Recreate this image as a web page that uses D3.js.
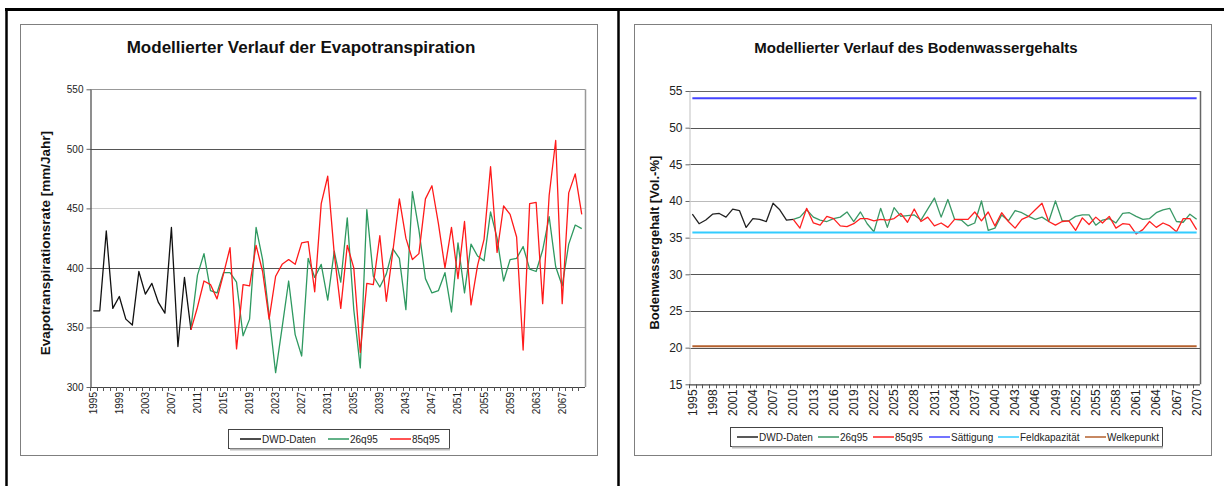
<!DOCTYPE html>
<html>
<head>
<meta charset="utf-8">
<title>Evapotranspiration und Bodenwassergehalt</title>
<script src="https://cdn.jsdelivr.net/npm/d3@7"></script>
<style>
  body { margin: 0; background: #fff; }
  svg { font-family: "Liberation Sans", Arial, sans-serif; }
</style>
</head>
<body>
<svg id="chart" width="1224" height="486"></svg>
<script>
// years on both x axes
var years = d3.range(1995, 2071);

// Evapotranspiration [mm/Jahr]
var etDwd = [364, 364, 431, 366, 376, 357, 352, 397, 378, 387, 371, 362, 434, 334, 392, 348]; // 1995-2010
var et26 = [350, 394, 412, 381, 379, 396, 396, 388, 343, 357, 434, 407, 360, 312, 350, 389, 344, 326, 408, 392,
            403, 373, 414, 388, 442, 365, 316, 449, 393, 384, 395, 416, 408, 365, 464, 432, 391, 379, 381, 396,
            363, 421, 379, 420, 410, 406, 447, 425, 389, 407, 408, 418, 399, 397, 415, 443, 401, 385, 420, 436, 433]; // 2010-2070
var et85 = [348, 367, 389, 386, 374, 395, 417, 332, 386, 385, 419, 397, 357, 393, 403, 407, 403, 421, 422, 380,
            454, 477, 412, 366, 419, 400, 329, 387, 386, 427, 372, 414, 458, 425, 407, 412, 458, 469, 437, 400,
            434, 391, 439, 369, 402, 424, 485, 413, 452, 445, 426, 331, 454, 455, 370, 461, 507, 370, 463, 479, 445];
var etTicks = [300, 350, 400, 450, 500, 550];

// Bodenwassergehalt [Vol.-%]
var bwDwd = [38.2, 36.9, 37.4, 38.2, 38.3, 37.8, 38.9, 38.7, 36.4, 37.6, 37.5, 37.2, 39.7, 38.8, 37.4, 37.5];
var bw26 = [37.5, 37.8, 38.8, 37.8, 37.4, 37.2, 37.6, 37.8, 38.5, 37.2, 38.5, 36.9, 35.8, 39.0, 36.4, 39.1, 37.9, 38.0, 38.1, 37.4,
            38.9, 40.4, 37.8, 40.2, 37.5, 37.4, 36.6, 37.0, 40.0, 36.0, 36.3, 38.1, 37.3, 38.7, 38.4, 37.9, 37.5, 37.8, 37.2, 40.0,
            37.3, 37.3, 37.9, 38.1, 38.1, 36.7, 37.4, 37.6, 37.0, 38.3, 38.4, 37.9, 37.5, 37.6, 38.4, 38.8, 39.0, 37.2, 37.1, 38.2, 37.5];
var bw85 = [37.5, 36.3, 39.0, 37.0, 36.7, 37.9, 37.6, 36.6, 36.5, 36.9, 37.6, 37.6, 37.3, 37.5, 37.4, 37.6, 38.3, 37.1, 38.9, 37.2,
            37.8, 36.6, 37.0, 36.4, 37.5, 37.5, 37.5, 38.5, 37.3, 38.5, 36.6, 38.4, 37.2, 36.3, 37.5, 37.9, 38.8, 39.7, 37.2, 36.7,
            37.2, 37.3, 36.0, 37.7, 36.8, 37.8, 37.0, 37.9, 36.3, 36.9, 36.8, 35.5, 36.1, 37.2, 36.4, 37.0, 36.6, 35.8, 37.6, 37.6, 36.1];
var saettigung = 54, feldkapazitaet = 35.7, welkepunkt = 20.2;
var bwTicks = [15, 20, 25, 30, 35, 40, 45, 50, 55];

var dwdYears = years.slice(0, etDwd.length);
var modelYears = years.slice(etDwd.length - 1);

function pairs(ys, vs) {
    return ys.map(function (yr, i) { return { year: yr, v: vs[i] }; });
}

var svg = d3.select('#chart');

// page frame (scanned document look)
svg.append('line').attr('x1', 5).attr('x2', 1224).attr('y1', 9.5).attr('y2', 9.5).attr('stroke', '#000').attr('stroke-width', 3);
svg.append('line').attr('x1', 6.5).attr('x2', 6.5).attr('y1', 8).attr('y2', 486).attr('stroke', '#000').attr('stroke-width', 2.5);
svg.append('line').attr('x1', 618.5).attr('x2', 618.5).attr('y1', 8).attr('y2', 486).attr('stroke', '#000').attr('stroke-width', 2.5);

function panel(cfg) {
    var g = svg.append('g');

    g.append('rect').attr('x', cfg.box[0] + 0.5).attr('y', 24.5).attr('width', 577).attr('height', 431)
        .attr('fill', '#fff').attr('stroke', '#7f7f7f');

    g.append('text').attr('x', cfg.titleX).attr('y', 53).attr('text-anchor', 'middle')
        .attr('font-size', cfg.titleSize).attr('font-weight', 'bold').attr('fill', '#111').text(cfg.title);

    var x = d3.scaleBand().domain(years).range([cfg.left, cfg.right]);
    var y = d3.scaleLinear().domain([cfg.ticks[0], cfg.ticks[cfg.ticks.length - 1]]).range([cfg.bottom, cfg.top]);
    var cx = function (yr) { return x(yr) + x.bandwidth() / 2; };

    // horizontal gridlines
    g.selectAll('.grid').data(cfg.ticks.slice(1)).enter().append('line')
        .attr('x1', cfg.left).attr('x2', cfg.right)
        .attr('y1', function (d) { return Math.round(y(d)) + 0.5; })
        .attr('y2', function (d) { return Math.round(y(d)) + 0.5; })
        .attr('stroke', function (d) { return cfg.gridColor[d] || '#555'; })
        .attr('stroke-width', 1.2);
    g.append('line').attr('x1', cfg.right + 0.5).attr('x2', cfg.right + 0.5).attr('y1', cfg.top).attr('y2', cfg.bottom)
        .attr('stroke', cfg.rightBorder).attr('stroke-width', 1.5);

    // y axis
    var ya = g.append('g').attr('transform', 'translate(' + (cfg.left + 0.5) + ',0)')
        .call(d3.axisLeft(y).tickValues(cfg.ticks).tickSize(4).tickSizeOuter(0).tickPadding(3));
    ya.select('.domain').attr('stroke', cfg.yAxisColor).attr('stroke-width', 1.2);
    ya.selectAll('.tick line').attr('stroke', '#666');
    ya.selectAll('text').attr('font-size', cfg.tickSize).attr('fill', '#222').attr('font-family', null);

    g.append('text')
        .attr('transform', 'translate(' + cfg.yTitleX + ',' + ((cfg.top + cfg.bottom) / 2 + 5) + ') rotate(-90)')
        .attr('text-anchor', 'middle').attr('font-size', cfg.yTitleSize).attr('font-weight', 'bold').attr('fill', '#111')
        .text(cfg.yTitle);

    // x axis: line, one tick per year boundary, rotated labels
    g.append('line').attr('x1', cfg.left).attr('x2', cfg.right).attr('y1', cfg.bottom + 0.5).attr('y2', cfg.bottom + 0.5)
        .attr('stroke', '#444').attr('stroke-width', 1.2);
    g.selectAll('.xt').data(years).enter().append('line')
        .attr('x1', function (d) { return Math.round(x(d)) + 0.5; })
        .attr('x2', function (d) { return Math.round(x(d)) + 0.5; })
        .attr('y1', cfg.bottom).attr('y2', cfg.bottom + 4).attr('stroke', '#555');
    var xa = g.append('g').attr('transform', 'translate(0,' + cfg.bottom + ')')
        .call(d3.axisBottom(x).tickValues(years.filter(function (d, i) { return i % cfg.every === 0; })).tickSize(0));
    xa.select('.domain').remove();
    xa.selectAll('text').attr('transform', 'rotate(-90)').attr('text-anchor', 'end')
        .attr('x', -5).attr('y', 0).attr('dy', '0.35em')
        .attr('font-size', cfg.tickSize).attr('fill', '#222').attr('font-family', null);

    // series
    var line = d3.line().x(function (d) { return cx(d.year); }).y(function (d) { return y(d.v); });
    cfg.series.forEach(function (s) {
        g.append('path').datum(s.data).attr('d', line).attr('fill', 'none')
            .attr('stroke', s.color).attr('stroke-width', s.width || 1.3).attr('stroke-linejoin', 'round');
    });
    (cfg.levels || []).forEach(function (s) {
        g.append('line').attr('x1', cx(years[0])).attr('x2', cx(years[years.length - 1]))
            .attr('y1', y(s.value)).attr('y2', y(s.value))
            .attr('stroke', s.color).attr('stroke-width', s.width);
    });

    // legend
    var items = cfg.series.concat(cfg.levels || []);
    g.append('rect').attr('x', cfg.legend[0] + 0.5).attr('y', cfg.legend[1] + 0.5)
        .attr('width', cfg.legend[2]).attr('height', 19)
        .attr('fill', '#fff').attr('stroke', '#444').attr('stroke-width', 1);
    g.append('line').attr('x1', cfg.legend[0] + 2).attr('x2', cfg.legend[0] + cfg.legend[2] + 1)
        .attr('y1', cfg.legend[1] + 20.5).attr('y2', cfg.legend[1] + 20.5).attr('stroke', '#bbb').attr('stroke-width', 2);
    var li = g.selectAll('.leg').data(items).enter().append('g')
        .attr('transform', function (d, i) { return 'translate(' + cfg.legendX[i] + ',' + (cfg.legend[1] + 10) + ')'; });
    li.append('line').attr('x1', 0).attr('x2', 21).attr('stroke', function (d) { return d.color; }).attr('stroke-width', 1.5);
    li.append('text').attr('x', 22).attr('dy', '0.35em').attr('font-size', cfg.legendSize).attr('fill', '#222')
        .text(function (d) { return d.name; });
}

panel({
    box: [20],
    title: 'Modellierter Verlauf der Evapotranspiration', titleX: 301, titleSize: 17,
    left: 90, right: 585, top: 89.3, bottom: 387,
    ticks: etTicks, every: 4, tickSize: 10,
    gridColor: { 550: '#999', 500: '#555', 450: '#d0d0d0', 400: '#555', 350: '#aaa' },
    rightBorder: '#999', yAxisColor: '#444',
    yTitle: 'Evapotranspirationsrate [mm/Jahr]', yTitleX: 50, yTitleSize: 13.5,
    series: [
        { name: 'DWD-Daten', color: '#111', data: pairs(dwdYears, etDwd) },
        { name: '26q95', color: '#2e9960', data: pairs(modelYears, et26) },
        { name: '85q95', color: '#ff1a1a', data: pairs(modelYears, et85) }
    ],
    legend: [228, 429, 221], legendX: [240, 328, 390], legendSize: 10
});

panel({
    box: [634],
    title: 'Modellierter Verlauf des Bodenwassergehalts', titleX: 916, titleSize: 15,
    left: 689, right: 1200, top: 91, bottom: 384.3,
    ticks: bwTicks, every: 3, tickSize: 12,
    gridColor: { 55: '#666', 40: '#bbb', 35: '#ccc' },
    rightBorder: '#666', yAxisColor: '#ccc',
    yTitle: 'Bodenwassergehalt [Vol.-%]', yTitleX: 659, yTitleSize: 13,
    series: [
        { name: 'DWD-Daten', color: '#222', data: pairs(dwdYears, bwDwd) },
        { name: '26q95', color: '#3a9966', data: pairs(modelYears, bw26) },
        { name: '85q95', color: '#ff2020', data: pairs(modelYears, bw85) }
    ],
    levels: [
        { name: 'Sättigung', color: '#4444ff', width: 2, value: saettigung },
        { name: 'Feldkapazität', color: '#33ccff', width: 2, value: feldkapazitaet },
        { name: 'Welkepunkt', color: '#b5612e', width: 2, value: welkepunkt }
    ],
    legend: [730, 427, 432], legendX: [737, 818, 873, 929, 998, 1085], legendSize: 10
});
</script>
</body>
</html>
